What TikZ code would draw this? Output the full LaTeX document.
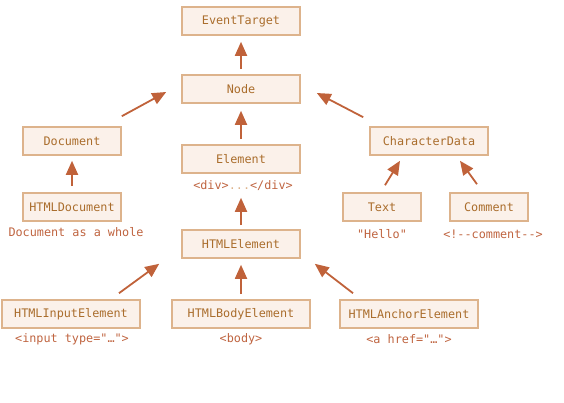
\documentclass[tikz,border=0pt]{standalone}
\usepackage{fontspec}
\setmonofont{DejaVu Sans Mono}
\usetikzlibrary{arrows.meta,calc}
\definecolor{boxfill}{HTML}{FBF1EA}
\definecolor{boxline}{HTML}{DDB38C}
\definecolor{boxtext}{HTML}{AA6D2C}
\definecolor{arrcol}{HTML}{C0623A}
\definecolor{lbltext}{HTML}{BF6440}
\begin{document}
\begin{tikzpicture}[x=1pt,y=-1pt,
    cls/.style={draw=boxline,fill=boxfill,line width=1.6pt,text=boxtext,font=\ttfamily\fontsize{11.8}{13}\selectfont,minimum height=28pt,inner sep=0pt},
    wide/.style={cls,minimum width=118pt},
    small/.style={cls,minimum width=98pt},
    tiny/.style={cls,minimum width=78pt},
    big/.style={cls,minimum width=138pt},
    lbl/.style={text=lbltext,font=\ttfamily\fontsize{11.8}{13}\selectfont,inner sep=0pt},
    inh/.style={draw=arrcol,line width=1.8pt,-{Triangle[length=14pt,width=12pt]}}]
\useasboundingbox (0,0) rectangle (564,403);
\node[wide]  (evt)     at (241,21)  {EventTarget};
\node[wide]  (nodeN)   at (241,89)  {Node};
\node[small] (doc)     at (72,141)  {Document};
\node[wide]  (elem)    at (241,159) {Element};
\node[wide]  (chardat) at (429,141) {CharacterData};
\node[small] (htmldoc) at (72,207)  {HTMLDocument};
\node[tiny]  (txt)     at (382,207) {Text};
\node[tiny]  (cmt)     at (489,207) {Comment};
\node[wide]  (htmlel)  at (241,244) {HTMLElement};
\node[big]   (inputel) at (71,314)  {HTMLInputElement};
\node[big]   (bodyel)  at (241,314) {HTMLBodyElement};
\node[big]   (anchorel) at (409,314) {HTMLAnchorElement};
% tags under the boxes
\node[lbl] (divtag)    at (243,186) {<div>\textcolor{boxline}{...}</div>};
\node[lbl] (doctag)    at (76,232)  {Document as a whole};
\node[lbl] (txttag)    at (382,234) {"Hello"};
\node[lbl] (cmttag)    at (493,234) {<!--comment-->};
\node[lbl] (inputtag)  at (72,339)  {<input type="…">};
\node[lbl] (bodytag)   at (241,339) {<body>};
\node[lbl] (anchortag) at (409,339) {<a href="…">};
% inheritance arrows
\draw[inh,shorten <=5pt,shorten >=6pt] (nodeN.north) -- (evt.south);
\draw[inh] ($(doc.north east)+(0,-10)$) -- ($(nodeN.west)+(-15,3)$);
\draw[inh] ($(chardat.north west)+(-6,-9)$) -- ($(nodeN.east)+(16,4)$);
\draw[inh,shorten <=5pt,shorten >=7pt] (elem.north) -- (nodeN.south);
\draw[inh,shorten <=6pt,shorten >=5pt] (htmldoc.north) -- (doc.south);
\draw[inh,shorten <=4pt] (htmlel.north) -- ($(elem.south)+(0,24)$);
\draw[inh] ($(txt.north)+(3,-7)$) -- ($(chardat.south)+(-29,5)$);
\draw[inh] ($(cmt.north)+(-12,-8)$) -- ($(chardat.south)+(31,5)$);
\draw[inh] ($(inputel.north)+(48,-6)$) -- ($(htmlel.south west)+(-22,5)$);
\draw[inh,shorten <=5pt,shorten >=6pt] (bodyel.north) -- (htmlel.south);
\draw[inh] ($(anchorel.north)+(-56,-6)$) -- ($(htmlel.south east)+(14,5)$);
\end{tikzpicture}
\end{document}
